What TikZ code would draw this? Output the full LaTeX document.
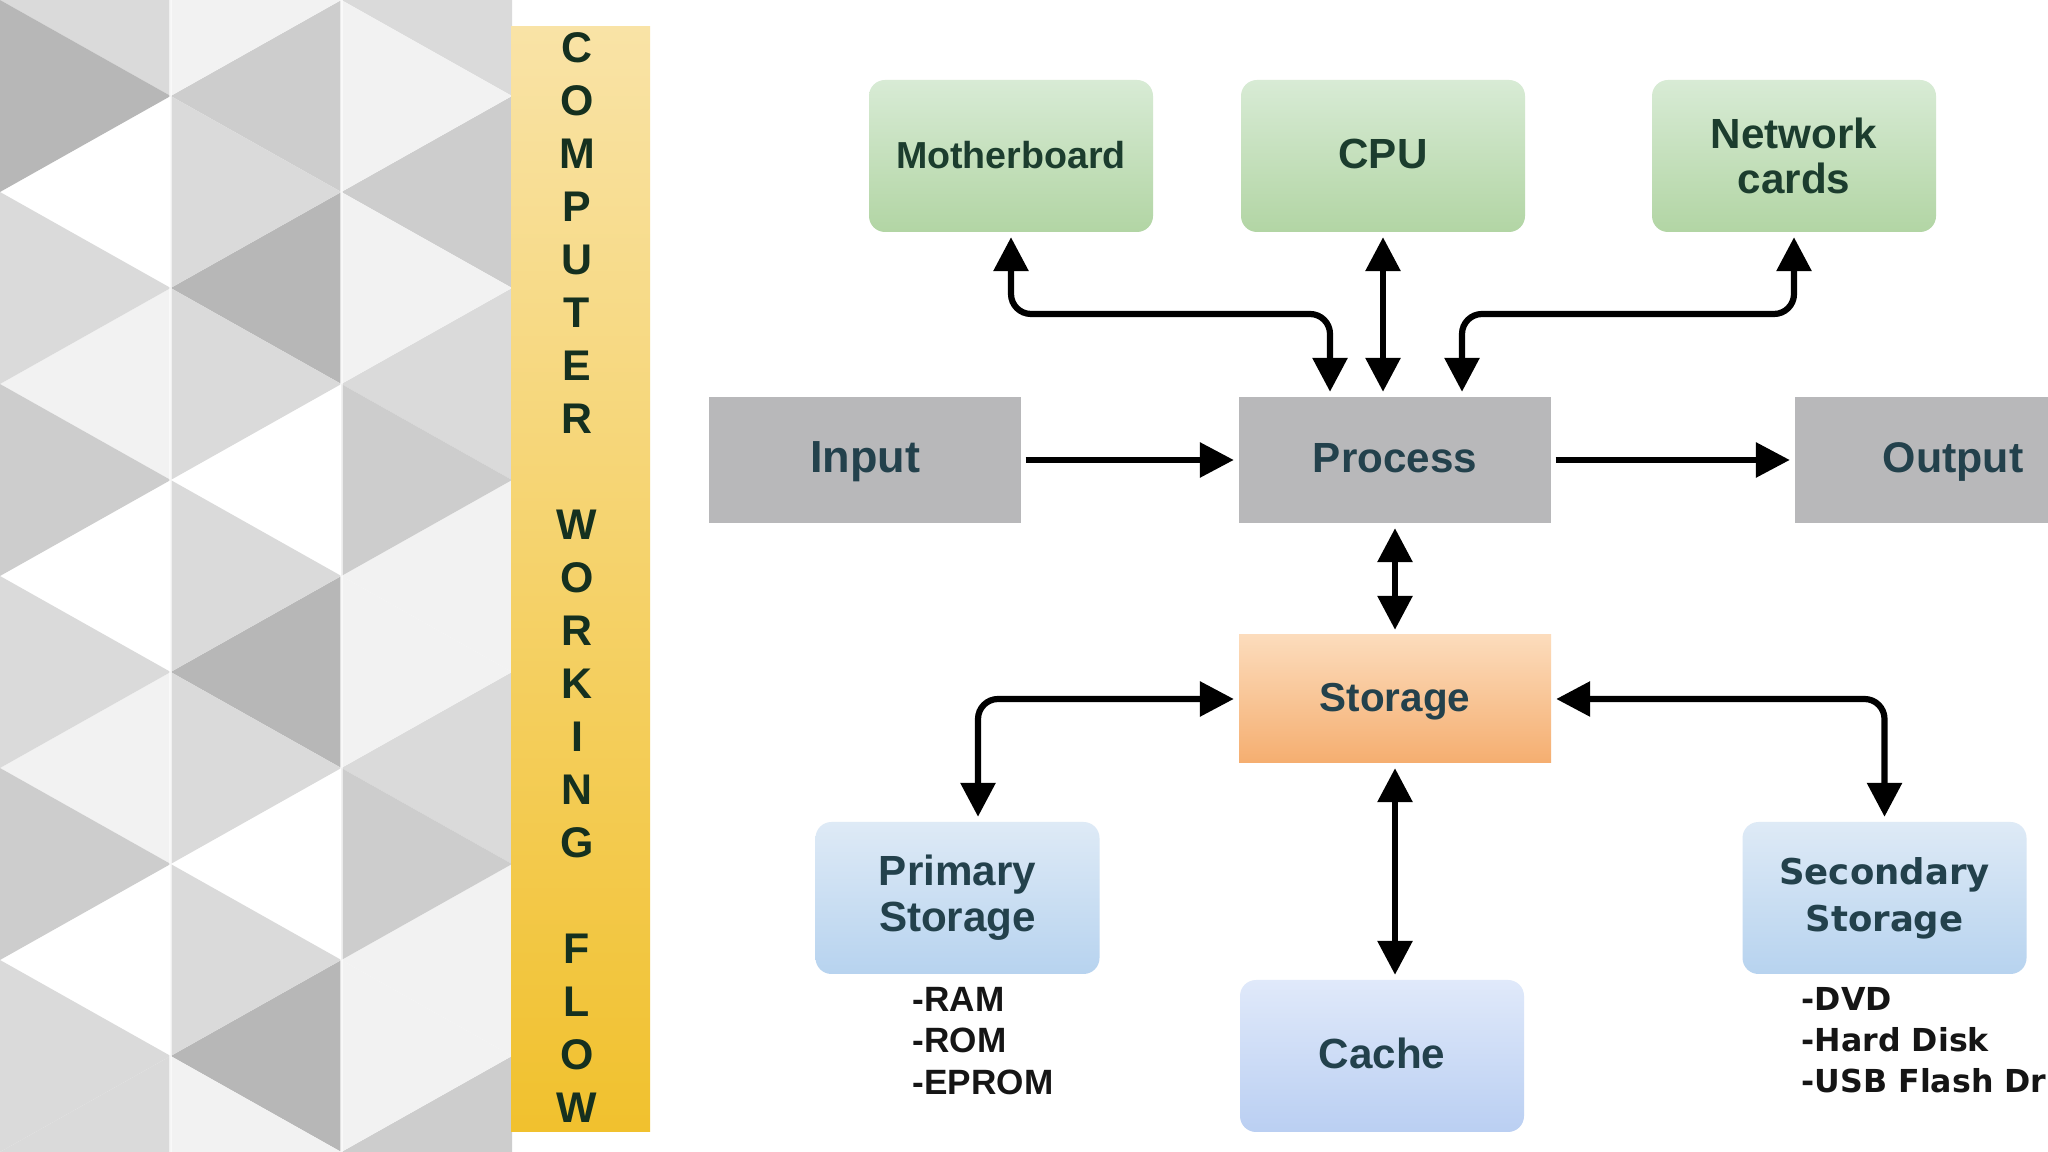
\documentclass[tikz,border=0pt]{standalone}
\usepackage{fontspec}
\setmainfont{Liberation Sans}
\newfontfamily\dvfont{DejaVu Sans}
\usetikzlibrary{arrows.meta}
\definecolor{cA}{HTML}{DADADA}
\definecolor{cB}{HTML}{B7B7B7}
\definecolor{cC}{HTML}{CDCDCD}
\definecolor{cF}{HTML}{F2F2F2}
\definecolor{barTop}{HTML}{F9E3A6}
\definecolor{barBot}{HTML}{F1C12E}
\definecolor{grT}{HTML}{D8EBD5}
\definecolor{grB}{HTML}{B2D5A4}
\definecolor{grayF}{HTML}{B8B8BA}
\definecolor{stT}{HTML}{FCDCBC}
\definecolor{stB}{HTML}{F5AE70}
\definecolor{blT}{HTML}{DEEAF6}
\definecolor{blB}{HTML}{B7D3EF}
\definecolor{caT}{HTML}{E0E9FA}
\definecolor{caB}{HTML}{BACFF2}
\definecolor{txG}{HTML}{1C3D2E}
\definecolor{txD}{HTML}{23414C}
\definecolor{txBar}{HTML}{15301F}
\definecolor{txL}{HTML}{151515}
\tikzset{
  tipA/.tip={Triangle[length=3.4mm,width=3.4mm]},
  onearrow/.style={line width=0.62mm, -tipA, shorten >=0.45mm, shorten <=0.4mm},
  twoarrow/.style={line width=0.62mm, tipA-tipA, shorten >=0.45mm, shorten <=0.45mm, rounded corners=2mm},
  capcenter/.style={text height=0.72em, text depth=0pt},
  gbox/.style={rectangle, rounded corners=1.6mm, top color=grT, bottom color=grB, minimum width=28.4mm, minimum height=15.2mm, text=txG, align=center, inner sep=0pt},
  graybox/.style={rectangle, fill=grayF, minimum width=31.2mm, minimum height=12.6mm, text=txD, inner sep=0pt, capcenter},
  orbox/.style={rectangle, top color=stT, bottom color=stB, minimum width=31.2mm, minimum height=12.8mm, text=txD, inner sep=0pt, capcenter},
  bluebox/.style={rectangle, rounded corners=1.6mm, top color=blT, bottom color=blB, minimum width=28.4mm, minimum height=15.2mm, text=txD, align=center, inner sep=0pt},
  barletter/.style={text=txBar, font=\fontsize{12.2pt}{14pt}\selectfont\bfseries, inner sep=0pt, capcenter},
  listline/.style={anchor=base west, inner sep=0pt, text=txL},
}
\begin{document}
\begin{tikzpicture}[x=0.1mm,y=-0.1mm]
\useasboundingbox (0,0) rectangle (2048,1152);
\fill[white] (0,0) rectangle (2048,1152);
% triangle pattern
\begin{scope}
\clip (0,0) rectangle (512,1152);
\foreach \y/\c in {0/cA,192/white,384/cF,576/white,768/cF,960/white,1152/cA}
  \fill[\c] (0,\y) -- (170.67,{\y-96}) -- (170.67,{\y+96}) -- cycle;
\foreach \y/\c in {96/cB,288/cA,480/cC,672/cA,864/cC,1056/cA}
  \fill[\c] (170.67,\y) -- (0,{\y-96}) -- (0,{\y+96}) -- cycle;
\foreach \y/\c in {96/cC,288/cB,480/white,672/cB,864/white,1056/cB}
  \fill[\c] (170.67,\y) -- (341.33,{\y-96}) -- (341.33,{\y+96}) -- cycle;
\foreach \y/\c in {0/cF,192/cA,384/cA,576/cA,768/cA,960/cA,1152/cF}
  \fill[\c] (341.33,\y) -- (170.67,{\y-96}) -- (170.67,{\y+96}) -- cycle;
\foreach \y/\c in {0/cA,192/cC,384/cA,576/cF,768/cA,960/cF,1152/cC}
  \fill[\c] (341.33,\y) -- (512,{\y-96}) -- (512,{\y+96}) -- cycle;
\foreach \y/\c in {96/cF,288/cF,480/cC,672/cF,864/cC,1056/cF}
  \fill[\c] (512,\y) -- (341.33,{\y-96}) -- (341.33,{\y+96}) -- cycle;
\draw[white, line width=0.25mm, opacity=0.6] (170.67,0) -- (170.67,1152) (341.33,0) -- (341.33,1152);
\end{scope}
% title bar
\shade[top color=barTop, bottom color=barBot] (511,27) rectangle (650,1131);
\foreach \ch/\i in {C/0,O/1,M/2,P/3,U/4,T/5,E/6,R/7,W/9,O/10,R/11,K/12,I/13,N/14,G/15,F/17,L/18,O/19,W/20}
  \node[barletter] (b\i) at (577,{50+53*\i}) {\ch};
% nodes
\node[gbox, capcenter, font=\fontsize{10.7pt}{12pt}\selectfont\bfseries] (mb) at (1011,156) {Motherboard};
\node[gbox, capcenter, font=\fontsize{12pt}{13pt}\selectfont\bfseries] (cpu) at (1383,156) {CPU};
\node[gbox, font=\fontsize{12pt}{12.8pt}\selectfont\bfseries] (net) at (1794,156) {Network\\cards};
\node[graybox, font=\fontsize{12.8pt}{14pt}\selectfont\bfseries] (inp) at (865,460) {Input};
\node[graybox, font=\fontsize{12pt}{14pt}\selectfont\bfseries] (proc) at (1395,460) {Process};
\node[graybox, minimum width=25.3mm, font=\fontsize{12.2pt}{14pt}\selectfont\bfseries] (out) at (1921.5,460) {\hspace*{6.3mm}Output};
\node[orbox, font=\fontsize{11.5pt}{13pt}\selectfont\bfseries] (sto) at (1395,699) {Storage};
\node[bluebox, font=\fontsize{12pt}{13.1pt}\selectfont\bfseries] (pri) at (957.5,898) {Primary\\Storage};
\node[bluebox, capcenter, top color=caT, bottom color=caB, font=\fontsize{12pt}{13pt}\selectfont\bfseries] (cache) at (1382,1056) {Cache};
\node[bluebox, font=\dvfont\fontsize{10.1pt}{13.4pt}\selectfont\bfseries] (sec) at (1884.5,898) {Secondary\\Storage};
% lists
\node[listline, font=\fontsize{10pt}{12pt}\selectfont\bfseries] (ram) at (912,1012) {-RAM};
\node[listline, font=\fontsize{10pt}{12pt}\selectfont\bfseries] (rom) at (912,1053) {-ROM};
\node[listline, font=\fontsize{10pt}{12pt}\selectfont\bfseries] (eprom) at (912,1094) {-EPROM};
\node[listline, font=\dvfont\fontsize{9pt}{11pt}\selectfont\bfseries] (dvd) at (1801,1011) {-DVD};
\node[listline, font=\dvfont\fontsize{9pt}{11pt}\selectfont\bfseries] (hdd) at (1801,1052) {-Hard Disk};
\node[listline, font=\dvfont\fontsize{9pt}{11pt}\selectfont\bfseries] (usb) at (1801,1093) {-USB Flash Dr};
% connectors
\coordinate (j1) at (1330,314);
\coordinate (j2) at (1462,314);
\coordinate (j3) at (978,699);
\draw[onearrow] (inp) -- (proc);
\draw[onearrow] (proc) -- (out.west);
\draw[twoarrow] (cpu.south) -- (cpu.south |- proc.north);
\draw[twoarrow] (mb.south) |- (j1) -- (j1 |- proc.north);
\draw[twoarrow] (net.south) |- (j2) -- (j2 |- proc.north);
\draw[twoarrow] (proc.south) -- (sto.north);
\draw[twoarrow] (sto.south) -- (sto.south |- cache.north);
\draw[twoarrow] (sto.west) -- (j3) -- (j3 |- pri.north);
\draw[twoarrow] (sto.east) -| (sec.north);
\end{tikzpicture}
\end{document}
